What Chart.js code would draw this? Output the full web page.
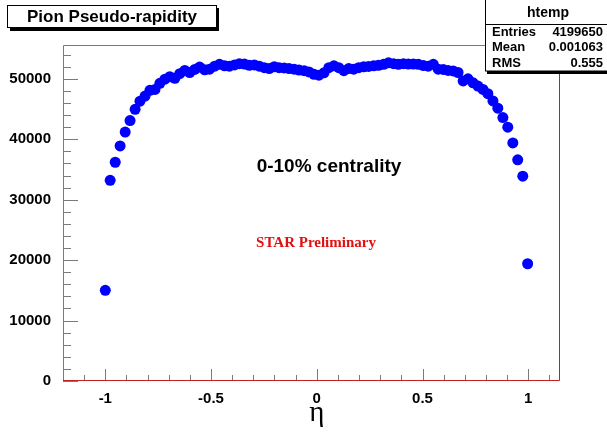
<!DOCTYPE html>
<html>
<head>
<meta charset="utf-8">
<title>Pion Pseudo-rapidity</title>
<script src="https://cdn.jsdelivr.net/npm/chart.js@4.4.0/dist/chart.umd.min.js"></script>
<style>
  body { margin: 0; background: #fff; }
  canvas { display: block; }
</style>
</head>
<body>
<canvas id="etaChart" width="607" height="432"></canvas>
<script>
// filled bin centres of the eta histogram (100 bins, -1.2 .. 1.15)
const etaBins = [
  -1.000, -0.977, -0.953, -0.930, -0.906, -0.883, -0.859, -0.836, -0.812, -0.789,
  -0.765, -0.742, -0.718, -0.695, -0.671, -0.648, -0.624, -0.601, -0.577, -0.554,
  -0.530, -0.507, -0.483, -0.460, -0.436, -0.413, -0.389, -0.366, -0.342, -0.319,
  -0.295, -0.272, -0.248, -0.225, -0.201, -0.178, -0.154, -0.131, -0.107, -0.084,
  -0.060, -0.037, -0.013, 0.010, 0.034, 0.057, 0.081, 0.104, 0.128, 0.151,
  0.175, 0.198, 0.222, 0.245, 0.269, 0.292, 0.316, 0.339, 0.363, 0.386,
  0.410, 0.433, 0.457, 0.480, 0.504, 0.527, 0.551, 0.574, 0.598, 0.621,
  0.645, 0.668, 0.692, 0.715, 0.739, 0.762, 0.786, 0.809, 0.833, 0.856,
  0.880, 0.903, 0.927, 0.950, 0.974, 0.997
];

// counts per bin
const pionCounts = [
  15000, 33200, 36200, 38900, 41200, 43100, 44950, 46300, 47150, 48100,
  48250, 49250, 49950, 50350, 50100, 50850, 51400, 51050, 51550, 51950,
  51500, 51600, 52100, 52400, 52150, 52100, 52300, 52500, 52450, 52250,
  52300, 52100, 51850, 51700, 52000, 51850, 51800, 51700, 51600, 51450,
  51350, 51150, 50750, 50600, 51000, 51850, 52150, 51850, 51350, 51700,
  51600, 51850, 52000, 52050, 52150, 52250, 52400, 52650, 52500, 52400,
  52500, 52450, 52450, 52400, 52200, 52100, 52400, 51600, 51550, 51400,
  51300, 51050, 49650, 50000, 49350, 48800, 48250, 47550, 46350, 45150,
  43600, 42000, 39400, 36600, 33900, 19400
];

const xMajorTicks = [-1, -0.5, 0, 0.5, 1];
const xTickLabels = ['-1', '-0.5', '0', '0.5', '1'];
const yMajorTicks = [0, 10000, 20000, 30000, 40000, 50000];
const yTickLabels = ['0', '10000', '20000', '30000', '40000', '50000'];

const statsTitle = 'htemp';
const statsNames = ['Entries', 'Mean', 'RMS'];
const statsValues = ['4199650', '0.001063', '0.555'];

const X_MIN = -1.2, X_MAX = 1.15, Y_MAX = 55600;

// minor ticks: 0.1 in eta, 2000 in counts
const xMinorTicks = [];
for (let v = -11; v <= 11; v++) xMinorTicks.push(v / 10);
const yMinorTicks = [];
for (let v = 2000; v < Y_MAX; v += 2000) yMinorTicks.push(v);

const SANS = '"Liberation Sans", Arial, Helvetica, sans-serif';
const SERIF = '"Liberation Serif", "Times New Roman", serif';

// ROOT-style frame, inner ticks, title box, stats box and labels
const rootDecor = {
  id: 'rootDecor',
  beforeDatasetsDraw(chart) {
    const { ctx, chartArea: a, scales: { x, y } } = chart;
    ctx.save();
    ctx.lineWidth = 1;
    ctx.strokeStyle = '#7a7a7a';

    // frame
    ctx.beginPath();
    ctx.moveTo(a.left + 0.5, a.bottom);
    ctx.lineTo(a.left + 0.5, a.top + 0.5);
    ctx.lineTo(a.right, a.top + 0.5);
    ctx.stroke();

    // x ticks point up from the bottom
    ctx.beginPath();
    xMinorTicks.forEach(v => {
      const px = Math.round(x.getPixelForValue(v)) + 0.5;
      const major = xMajorTicks.some(m => Math.abs(m - v) < 1e-6);
      ctx.moveTo(px, a.bottom);
      ctx.lineTo(px, a.bottom - (major ? 12 : 6));
    });
    // y ticks point right from the left axis
    yMinorTicks.concat(yMajorTicks).forEach(v => {
      const py = Math.round(y.getPixelForValue(v)) + 0.5;
      const major = v % 10000 === 0;
      ctx.moveTo(a.left, py);
      ctx.lineTo(a.left + (major ? 15 : 8), py);
    });
    ctx.stroke();

    // histogram outline (red) along the base and right edge
    ctx.strokeStyle = '#c02020';
    ctx.beginPath();
    ctx.moveTo(a.left, a.bottom - 0.5);
    ctx.lineTo(a.right - 0.5, a.bottom - 0.5);
    ctx.lineTo(a.right - 0.5, a.top);
    ctx.stroke();
    ctx.restore();
  },
  afterDatasetsDraw(chart) {
    const { ctx, scales: { x } } = chart;
    ctx.save();

    // title box
    ctx.fillStyle = '#000';
    ctx.fillRect(10, 8, 209, 23);
    ctx.fillStyle = '#fff';
    ctx.fillRect(7.5, 5.5, 209, 22);
    ctx.strokeStyle = '#000';
    ctx.lineWidth = 1;
    ctx.strokeRect(7.5, 5.5, 209, 22);
    ctx.fillStyle = '#000';
    ctx.font = 'bold 17px ' + SANS;
    ctx.textAlign = 'center';
    ctx.textBaseline = 'middle';
    ctx.fillText('Pion Pseudo-rapidity', 112, 17);

    // stats box
    ctx.fillStyle = '#000';
    ctx.fillRect(487, 2, 125, 72);
    ctx.fillStyle = '#fff';
    ctx.fillRect(485.5, -1, 125, 72);
    ctx.strokeRect(485.5, -1, 125, 72);
    ctx.beginPath();
    ctx.moveTo(485.5, 24.5);
    ctx.lineTo(607, 24.5);
    ctx.stroke();
    ctx.fillStyle = '#000';
    ctx.font = 'bold 14px ' + SANS;
    ctx.textAlign = 'center';
    ctx.fillText(statsTitle, 548, 13);
    ctx.font = 'bold 13px ' + SANS;
    statsNames.forEach((name, i) => {
      const ty = 32 + i * 15.5;
      ctx.textAlign = 'left';
      ctx.fillText(name, 492, ty);
      ctx.textAlign = 'right';
      ctx.fillText(statsValues[i], 603, ty);
    });

    // annotations
    ctx.textAlign = 'center';
    ctx.font = 'bold 19px ' + SANS;
    ctx.fillText('0-10% centrality', 329, 167);
    ctx.fillStyle = '#e01010';
    ctx.font = 'bold 15px ' + SERIF;
    ctx.fillText('STAR Preliminary', 316, 243);

    // axis title
    ctx.fillStyle = '#000';
    ctx.font = '29px ' + SERIF;
    ctx.textBaseline = 'alphabetic';
    ctx.fillText('\u03b7', x.getPixelForValue(0), 421);
    ctx.restore();
  }
};

new Chart(document.getElementById('etaChart'), {
  type: 'scatter',
  data: {
    datasets: [{
      label: 'htemp',
      data: etaBins.map((eta, i) => ({ x: eta, y: pionCounts[i] })),
      backgroundColor: '#0000ff',
      borderWidth: 0,
      pointRadius: 5.5,
      pointHoverRadius: 5.5
    }]
  },
  options: {
    responsive: false,
    animation: false,
    events: [],
    layout: { padding: { top: 45, right: 47, left: 0, bottom: 0 } },
    plugins: {
      legend: { display: false },
      tooltip: { enabled: false }
    },
    scales: {
      x: {
        type: 'linear',
        min: X_MIN,
        max: X_MAX,
        grid: { display: false },
        border: { display: false },
        afterBuildTicks: s => { s.ticks = xMajorTicks.map(v => ({ value: v })); },
        afterFit: s => { s.height = 51; },
        ticks: {
          padding: 1,
          maxRotation: 0,
          autoSkip: false,
          color: '#000',
          font: { family: SANS, size: 15, weight: 'bold' },
          callback: v => xTickLabels[xMajorTicks.indexOf(v)]
        }
      },
      y: {
        min: 0,
        max: Y_MAX,
        grid: { display: false },
        border: { display: false },
        afterBuildTicks: s => { s.ticks = yMajorTicks.map(v => ({ value: v })); },
        afterFit: s => { s.width = 63; },
        ticks: {
          padding: 4,
          autoSkip: false,
          color: '#000',
          font: { family: SANS, size: 15, weight: 'bold' },
          callback: v => yTickLabels[yMajorTicks.indexOf(v)]
        }
      }
    }
  },
  plugins: [rootDecor]
});
</script>
</body>
</html>
